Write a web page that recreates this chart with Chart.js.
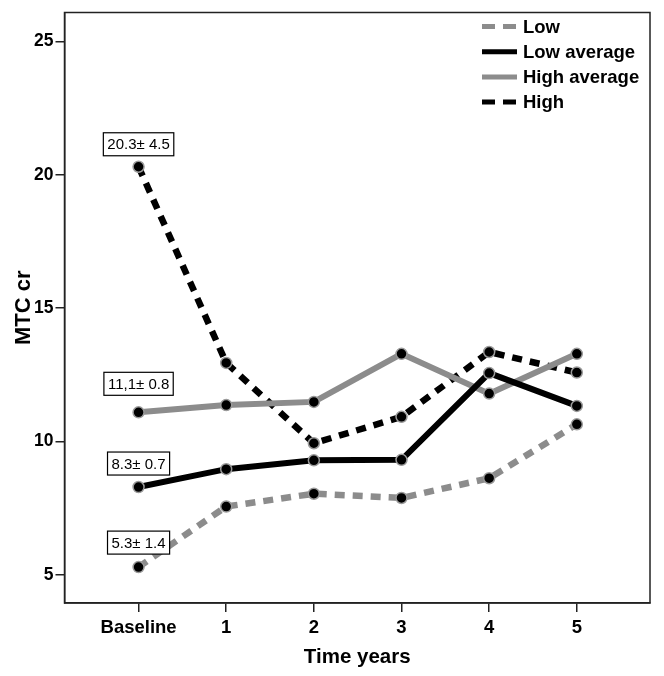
<!DOCTYPE html>
<html>
<head>
<meta charset="utf-8">
<script src="https://cdn.jsdelivr.net/npm/chart.js@4"></script>
<style>
  html, body { margin: 0; padding: 0; background: #fff; }
  canvas { display: block; }
</style>
</head>
<body>
<canvas id="chart" width="664" height="676"></canvas>
<script>
// Valeurs (MTC cr par groupe, de Baseline à 5 ans)
const xLabels = ["Baseline", "1", "2", "3", "4", "5"];
const lowValues     = [5.3, 7.57, 8.05, 7.89, 8.63, 10.65];
const lowAvgValues  = [8.3, 8.97, 9.30, 9.32, 12.57, 11.34];
const highAvgValues = [11.1, 11.37, 11.49, 13.29, 11.80, 13.29];
const highValues    = [20.3, 12.95, 9.94, 10.93, 13.36, 12.59];
const yTicks = [5, 10, 15, 20, 25];
const seriesNames = ["Low", "Low average", "High average", "High"];
const baselineLabels = ["5.3\u00b1 1.4", "8.3\u00b1 0.7", "11,1\u00b1 0.8", "20.3\u00b1 4.5"];

const GRAY = "#8c8c8c";
const INK = "#000";
const FONT = "'Liberation Sans', Arial, sans-serif";

function toPoints(values) {
  return values.map((v, i) => ({ x: i, y: v }));
}

function series(label, values, color, dash) {
  return {
    label,
    data: toPoints(values),
    borderColor: color,
    backgroundColor: color,
    borderWidth: dash.length ? 6.5 : 6,
    borderDash: dash,
    pointRadius: 5.5,
    pointBackgroundColor: "#000",
    pointBorderColor: "#9a9a9a",
    pointBorderWidth: 1.5,
    tension: 0
  };
}

// Cadre complet autour de la zone de tracé
const framePlugin = {
  id: "frame",
  afterDraw(chart) {
    const { ctx, chartArea: a } = chart;
    ctx.save();
    ctx.strokeStyle = "#222";
    ctx.lineWidth = 1.5;
    ctx.strokeRect(a.left, a.top, a.right - a.left, a.bottom - a.top);
    ctx.restore();
  }
};

// Légende en haut à droite, à l'intérieur du cadre
const legendPlugin = {
  id: "customLegend",
  afterDraw(chart) {
    const { ctx } = chart;
    ctx.save();
    ctx.font = `bold 18.5px ${FONT}`;
    ctx.textBaseline = "middle";
    chart.data.datasets.forEach((ds, i) => {
      const y = 26.5 + i * 25.2;
      ctx.strokeStyle = ds.borderColor;
      ctx.lineWidth = 5;
      ctx.setLineDash(ds.borderDash.length ? [13, 8] : []);
      ctx.beginPath();
      ctx.moveTo(482, y);
      ctx.lineTo(517, y);
      ctx.stroke();
      ctx.setLineDash([]);
      ctx.fillStyle = "#000";
      ctx.fillText(ds.label, 523, y + 1);
    });
    ctx.restore();
  }
};

// Étiquettes encadrées « moyenne ± écart » au-dessus des points Baseline
const labelOffsets = [13, 12, 17, 11];
const baselinePlugin = {
  id: "baselineLabels",
  afterDraw(chart) {
    const { ctx } = chart;
    ctx.save();
    ctx.font = `15px ${FONT}`;
    ctx.textAlign = "center";
    ctx.textBaseline = "middle";
    chart.data.datasets.forEach((ds, i) => {
      const pt = chart.getDatasetMeta(i).data[0];
      const text = baselineLabels[i];
      const w = ctx.measureText(text).width + 8;
      const h = 23;
      const bottom = pt.y - labelOffsets[i];
      ctx.fillStyle = "#fff";
      ctx.fillRect(pt.x - w / 2, bottom - h, w, h);
      ctx.strokeStyle = "#000";
      ctx.lineWidth = 1.2;
      ctx.strokeRect(pt.x - w / 2, bottom - h, w, h);
      ctx.fillStyle = "#000";
      ctx.fillText(text, pt.x, bottom - h / 2 + 1);
    });
    ctx.restore();
  }
};

new Chart(document.getElementById("chart"), {
  type: "line",
  data: {
    datasets: [
      series(seriesNames[0], lowValues, GRAY, [10, 8]),
      series(seriesNames[1], lowAvgValues, INK, []),
      series(seriesNames[2], highAvgValues, GRAY, []),
      series(seriesNames[3], highValues, INK, [10, 8])
    ]
  },
  options: {
    responsive: false,
    animation: false,
    devicePixelRatio: 1,
    layout: { padding: { top: 10, right: 14, left: 0, bottom: 0 } },
    plugins: { legend: { display: false }, tooltip: { enabled: false } },
    scales: {
      x: {
        type: "linear",
        min: -0.845,
        max: 5.835,
        afterBuildTicks: s => { s.ticks = xLabels.map((_, i) => ({ value: i })); },
        afterFit: s => { s.height = 73; },
        ticks: {
          callback: v => xLabels[v],
          color: "#000",
          padding: 5,
          maxRotation: 0,
          font: { family: FONT, size: 18.5, weight: "bold" }
        },
        grid: { drawOnChartArea: false, drawTicks: true, tickLength: 9, color: "#222", lineWidth: 1.5 },
        border: { display: true, color: "#222", width: 1.5 },
        title: {
          display: true,
          text: "Time years",
          color: "#000",
          padding: { top: 0, bottom: 6 },
          font: { family: FONT, size: 20.5, weight: "bold" }
        }
      },
      y: {
        min: 3.955,
        max: 26.08,
        afterBuildTicks: s => { s.ticks = yTicks.map(v => ({ value: v })); },
        afterFit: s => { s.width = 64.5; },
        ticks: {
          color: "#000",
          padding: 2,
          font: { family: FONT, size: 17.5, weight: "bold" }
        },
        grid: { drawOnChartArea: false, drawTicks: true, tickLength: 9, color: "#222", lineWidth: 1.5 },
        border: { display: true, color: "#222", width: 1.5 },
        title: {
          display: true,
          text: "MTC cr",
          color: "#000",
          padding: { top: 11, bottom: 0 },
          font: { family: FONT, size: 22, weight: "bold" }
        }
      }
    }
  },
  plugins: [framePlugin, legendPlugin, baselinePlugin]
});
</script>
</body>
</html>
